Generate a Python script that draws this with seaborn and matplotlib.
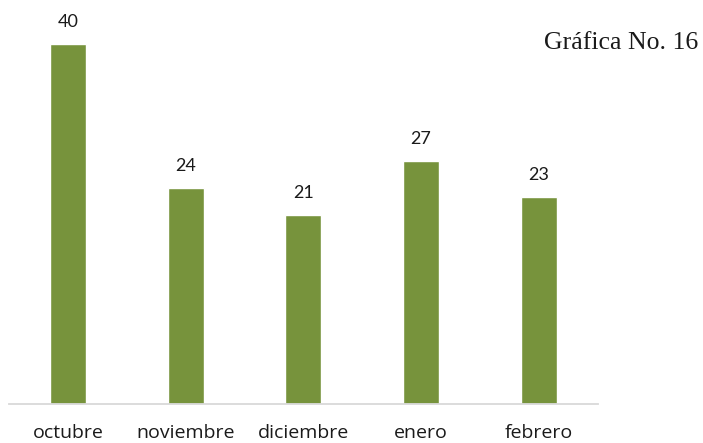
import matplotlib
matplotlib.use("Agg")
import matplotlib.pyplot as plt
import seaborn as sns
import pandas as pd

meses = ["octubre", "noviembre", "diciembre", "enero", "febrero"]
valores = [40, 24, 21, 27, 23]

df = pd.DataFrame({"mes": meses, "valor": valores})

sns.set_style("white")
W, H = 703, 443
fig = plt.figure(figsize=(W / 100, H / 100), dpi=100)
# axes placed in pixel terms: x 9..597.5, y baseline 403.5, value 40 at 43.7
ax = fig.add_axes([9 / W, (H - 403.5) / H, 588.5 / W, (403.5 - 43.7) / H])

sns.barplot(data=df, x="mes", y="valor", color="#77933C", saturation=1,
            width=0.306, ax=ax)

ax.set_ylim(0, 40)
ax.set_xlim(-0.5, len(meses) - 0.5)
ax.set_xlabel("")
ax.set_ylabel("")
ax.set_yticks([])
for s in ["top", "right", "left"]:
    ax.spines[s].set_visible(False)
ax.spines["bottom"].set_color("#D9D9D9")
ax.spines["bottom"].set_linewidth(1.3)
ax.tick_params(axis="x", length=0, pad=15, labelsize=14, colors="#1a1a1a")
for lab in ax.get_xticklabels():
    lab.set_fontfamily("Open Sans")

for i, v in enumerate(valores):
    ax.annotate(str(v), (i, v), xytext=(0, 10), textcoords="offset points",
                ha="center", va="bottom", fontsize=13, family="Lato",
                color="#1a1a1a", annotation_clip=False)

fig.text(544 / W, 1 - 49 / H, "Gráfica No. 16", family="Liberation Serif",
         fontsize=18.5, ha="left", va="baseline", color="#1a1a1a")

fig.savefig("out.png", dpi=100)
